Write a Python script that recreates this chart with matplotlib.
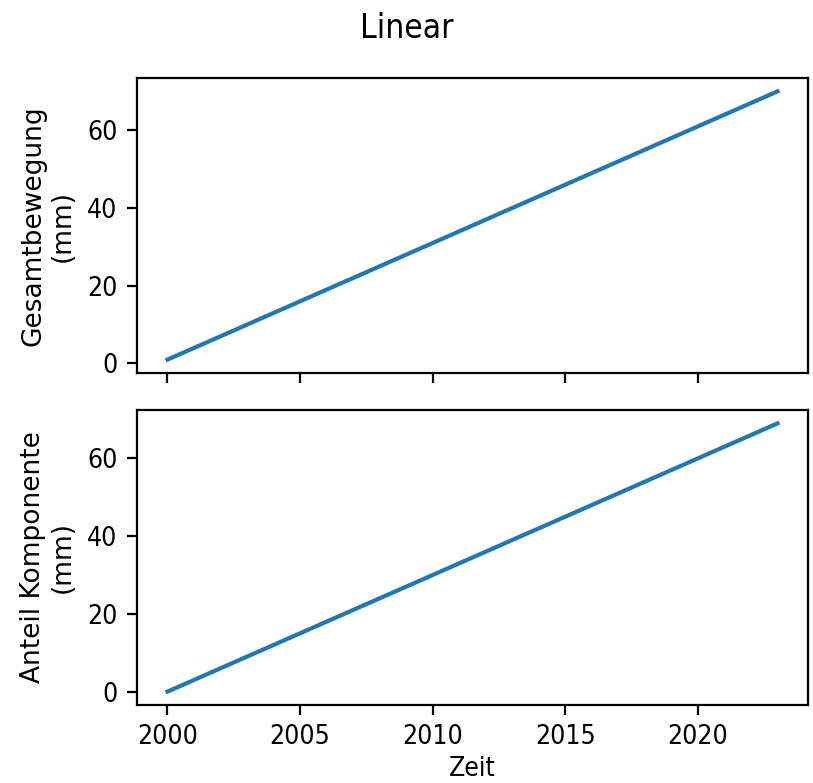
import matplotlib
matplotlib.use("Agg")
import matplotlib.pyplot as plt

# Jahreswerte (mm)
years = [2000, 2001, 2002, 2003, 2004, 2005, 2006, 2007, 2008, 2009, 2010, 2011,
         2012, 2013, 2014, 2015, 2016, 2017, 2018, 2019, 2020, 2021, 2022, 2023]
gesamt = [1, 4, 7, 10, 13, 16, 19, 22, 25, 28, 31, 34,
          37, 40, 43, 46, 49, 52, 55, 58, 61, 64, 67, 70]
komponente = [0, 3, 6, 9, 12, 15, 18, 21, 24, 27, 30, 33,
              36, 39, 42, 45, 48, 51, 54, 57, 60, 63, 66, 69]

plt.rcParams["font.size"] = 9.5
plt.rcParams["font.stretch"] = "condensed"

fig = plt.figure(figsize=(813 / 200, 783 / 200), dpi=200)
ax1 = fig.add_axes([0.1685, 0.5236, 0.8253, 0.3768])
ax2 = fig.add_axes([0.1685, 0.0996, 0.8253, 0.3768], sharex=ax1)

ax1.plot(years, gesamt, color="#1f77b4", linewidth=1.5)
ax2.plot(years, komponente, color="#1f77b4", linewidth=1.5)

# rotated labels keep normal width
ax1.set_ylabel("Gesamtbewegung\n(mm)", fontstretch="normal")
ax2.set_ylabel("Anteil Komponente\n(mm)", fontstretch="normal")
ax2.set_xlabel("Zeit", labelpad=2)
ax1.tick_params(labelbottom=False)
ax1.set_yticks([0, 20, 40, 60])
ax2.set_yticks([0, 20, 40, 60])
ax2.set_xticks([2000, 2005, 2010, 2015, 2020])

fig.suptitle("Linear", y=0.985, fontsize=12)

fig.savefig("out.png", dpi=200)
